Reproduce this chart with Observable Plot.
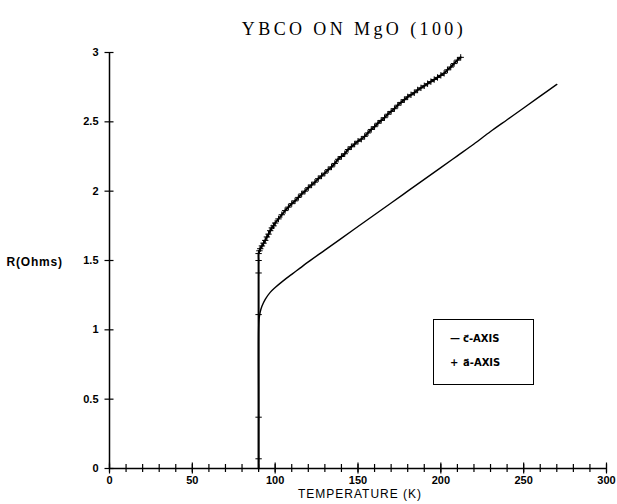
<!DOCTYPE html>
<html>
<head>
<meta charset="utf-8">
<script src="https://cdn.jsdelivr.net/npm/d3@7"></script>
<script src="https://cdn.jsdelivr.net/npm/@observablehq/plot@0.6"></script>
<style>
  html, body { margin: 0; padding: 0; background: white; }
  #wrap { position: relative; width: 617px; height: 504px; }
  #legend { position: absolute; left: 433px; top: 319px; width: 99px; height: 64px;
    border: 1.5px solid black; font-family: "DejaVu Sans", sans-serif; font-weight: bold;
    font-size: 10px; color: black; }
  #legend .row { position: absolute; left: 16px; white-space: nowrap; }
  #legend .sym { display: inline-block; width: 13px; }
</style>
</head>
<body>
<div id="wrap"><div id="legend"></div></div>
<script>
// ---- data ----
const TITLE = "YBCO ON MgO (100)";
const X_LABEL = "TEMPERATURE (K)";
const Y_LABEL = "R(Ohms)";
const xTicks = [0, 50, 100, 150, 200, 250, 300];
const xMinorTicks = [0,10,20,30,40,50,60,70,80,90,100,110,120,130,140,150,160,170,180,190,200,210,220,230,240,250,260,270,280,290,300];
const yTicks = [0, 0.5, 1, 1.5, 2, 2.5, 3];
const legendSymbols = ["\u2014", "+"];
const legendLabels = ["c\u20D7-AXIS", "a\u20D7-AXIS"];

// c-axis (plain line)
const cT = [90, 90, 90, 90.3, 91, 92, 94, 97, 100, 105, 110, 115, 120, 130, 140, 150, 160, 170, 180, 190, 200, 210, 220, 230, 240, 250, 260, 270];
const cR = [0, 0.5, 1.0, 1.08, 1.13, 1.17, 1.22, 1.27, 1.305, 1.355, 1.40, 1.445, 1.49, 1.575, 1.66, 1.745, 1.83, 1.915, 2.0, 2.085, 2.17, 2.255, 2.34, 2.43, 2.515, 2.60, 2.685, 2.77];

// a-axis (line with + markers)
const aT = [90, 90, 90, 90, 90, 90, 90, 90.5, 91, 92, 93, 94, 95, 96, 97, 98, 99, 100, 102, 104, 106, 108, 110, 112, 114, 116, 118, 120, 122, 124, 126, 128, 130, 132, 134, 136, 138, 140, 142, 144, 146, 148, 150, 152, 154, 156, 158, 160, 162, 164, 166, 168, 170, 172, 174, 176, 178, 180, 182, 184, 186, 188, 190, 192, 194, 196, 198, 200, 202, 204, 206, 208, 210, 212];
const aR = [0, 0.07, 0.37, 1.11, 1.41, 1.5, 1.55, 1.57, 1.585, 1.605, 1.625, 1.645, 1.67, 1.69, 1.715, 1.735, 1.75, 1.77, 1.80, 1.83, 1.86, 1.885, 1.91, 1.93, 1.955, 1.98, 2.00, 2.025, 2.045, 2.065, 2.09, 2.11, 2.13, 2.155, 2.175, 2.20, 2.23, 2.25, 2.27, 2.30, 2.32, 2.34, 2.36, 2.375, 2.395, 2.42, 2.445, 2.465, 2.49, 2.51, 2.53, 2.555, 2.575, 2.595, 2.62, 2.64, 2.66, 2.68, 2.695, 2.71, 2.73, 2.745, 2.76, 2.775, 2.79, 2.805, 2.82, 2.835, 2.85, 2.875, 2.895, 2.92, 2.945, 2.965];

const cData = cT.map((t, i) => ({T: t, R: cR[i]}));
const aData = aT.map((t, i) => ({T: t, R: aR[i]}));

const plot = Plot.plot({
  width: 617,
  height: 504,
  marginLeft: 109,
  marginRight: 11,
  marginTop: 52,
  marginBottom: 36,
  x: {domain: [0, 300]},
  y: {domain: [0, 3]},
  style: {fontFamily: "Liberation Sans, sans-serif", fontSize: "11px", background: "white", color: "black", overflow: "visible"},
  marks: [
    Plot.ruleX([0], {strokeWidth: 1.5}),
    Plot.ruleY([0], {strokeWidth: 1.5}),
    Plot.axisX({ticks: xMinorTicks, tickSize: 8, dy: -4, tickFormat: () => "", label: null, strokeWidth: 1.2}),
    Plot.axisX({ticks: xTicks, tickSize: 11, dy: -5.5, tickFormat: () => "", label: null, strokeWidth: 1.2}),
    Plot.axisX({ticks: xTicks, tickSize: 0, tickPadding: 8, tickFormat: d => String(d), fontWeight: "bold", label: null}),
    Plot.axisY({ticks: yTicks, tickSize: 9, dx: 4.5, tickFormat: () => "", label: null, strokeWidth: 1.2}),
    Plot.axisY({ticks: yTicks, tickSize: 0, tickPadding: 11, tickFormat: d => String(d), fontWeight: "bold", label: null}),
    Plot.line(cData, {x: "T", y: "R", stroke: "black", strokeWidth: 1.4, curve: "catmull-rom"}),
    Plot.line(aData, {x: "T", y: "R", stroke: "black", strokeWidth: 2, curve: "catmull-rom"}),
    Plot.dot(aData, {x: "T", y: "R", symbol: "plus", r: 2.2, stroke: "black", strokeWidth: 1}),
    Plot.text([TITLE], {frameAnchor: "top", dy: -30, dx: -4, fontFamily: "Liberation Serif, serif", fontSize: 18, fill: "black"}),
    Plot.text([Y_LABEL], {frameAnchor: "left", dx: -103, dy: 2, textAnchor: "start", fontWeight: "bold", fontSize: 12, fill: "black"}),
    Plot.text([X_LABEL], {frameAnchor: "bottom", dy: 29, dx: 2, fontSize: 12, fill: "black"})
  ]
});

d3.select(plot).selectAll("text").filter(function() { return this.textContent === TITLE; }).attr("letter-spacing", "3.4px");
d3.select(plot).selectAll("text").filter(function() { return this.textContent === X_LABEL; }).attr("letter-spacing", "1px");
d3.select(plot).selectAll("text").filter(function() { return this.textContent === Y_LABEL; }).attr("letter-spacing", "0.8px");

document.getElementById("wrap").prepend(plot);

const legend = document.getElementById("legend");
legendLabels.forEach((lab, i) => {
  const row = document.createElement("div");
  row.className = "row";
  row.style.top = (i === 0 ? 13 : 37) + "px";
  const s = document.createElement("span");
  s.className = "sym";
  s.textContent = legendSymbols[i];
  row.appendChild(s);
  row.appendChild(document.createTextNode(lab));
  legend.appendChild(row);
});
</script>
</body>
</html>
